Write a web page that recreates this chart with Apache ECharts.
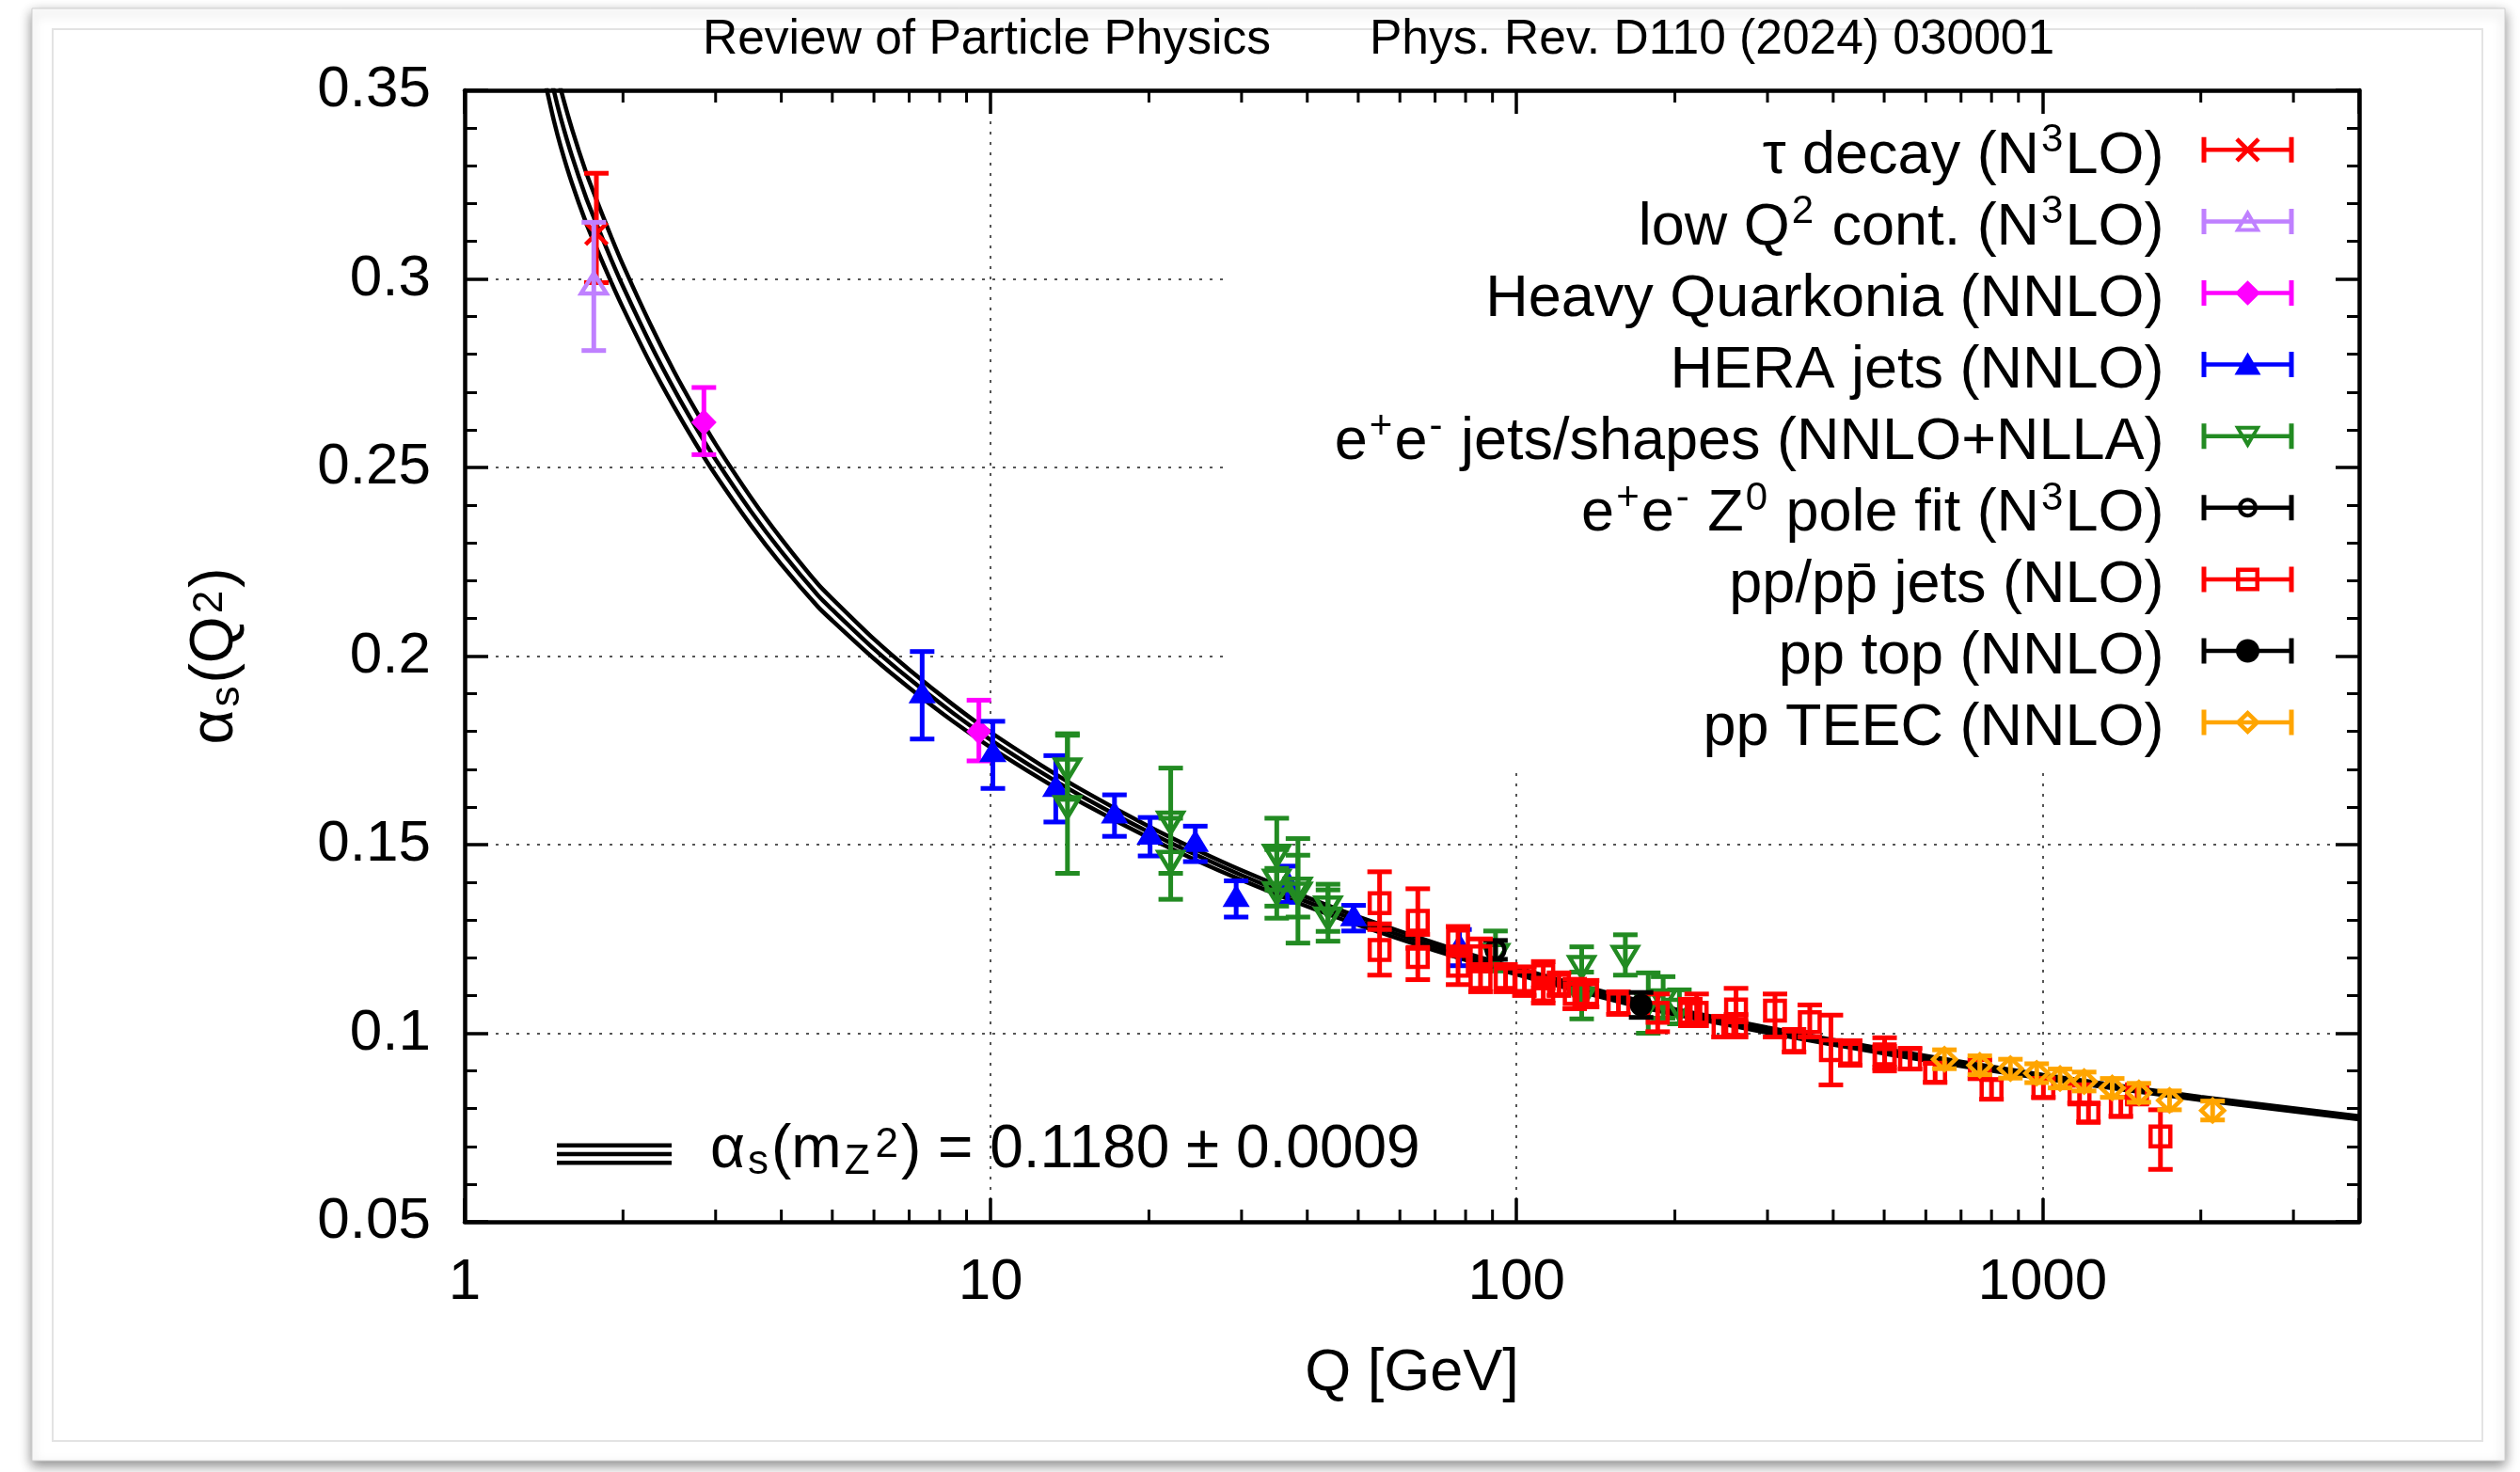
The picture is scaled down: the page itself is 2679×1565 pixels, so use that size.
<!DOCTYPE html>
<html><head><meta charset="utf-8">
<script src="https://cdn.jsdelivr.net/npm/echarts@6/dist/echarts.min.js"></script>
<style>html,body{margin:0;padding:0;background:#fff}#c{width:2679px;height:1565px}</style>
</head><body><div id="c"></div>
<script>
// ---------------- data ----------------
const titleLeft = 'Review of Particle Physics';
const titleRight = 'Phys. Rev. D110 (2024) 030001';
const xAxisName = 'Q [GeV]';
const xTickLabels = [1, 10, 100, 1000];
const xMinorTicks = [2,3,4,5,6,7,8,9,20,30,40,50,60,70,80,90,200,300,400,500,600,700,800,900,2000,3000];

// running coupling band: Q and alpha_s for upper / central / lower lines
const qCurve = [1.43,1.477,1.524,1.6,1.7,1.777,1.9,2,2.25,2.5,2.75,3,3.5,4,4.7,5,6,7,8.5,10,12.5,15,20,25,30,40,50,70,91.19,150,172.5,200,300,500,1000,2000,4000];
const alphaCentral = [0.3590,0.3500,0.3425,0.3325,0.3217,0.3149,0.3051,0.2980,0.2830,0.2708,0.2607,0.2521,0.2384,0.2277,0.2160,0.2123,0.2019,0.1940,0.1848,0.1778,0.1691,0.1626,0.1533,0.1468,0.1419,0.1348,0.1298,0.1229,0.1180,0.1098,0.1077,0.1057,0.1008,0.0952,0.0885,0.0827,0.0776];
const alphaUpper = [0.3673,0.3579,0.3501,0.3397,0.3284,0.3213,0.3111,0.3037,0.2882,0.2755,0.2651,0.2562,0.2421,0.2311,0.2190,0.2152,0.2045,0.1964,0.1870,0.1798,0.1710,0.1643,0.1548,0.1482,0.1432,0.1360,0.1309,0.1239,0.1189,0.1106,0.1085,0.1064,0.1015,0.0958,0.0890,0.0831,0.0780];
const alphaLower = [0.3507,0.3421,0.3349,0.3253,0.3150,0.3085,0.2991,0.2923,0.2778,0.2661,0.2563,0.2480,0.2347,0.2243,0.2130,0.2094,0.1993,0.1916,0.1826,0.1758,0.1673,0.1609,0.1518,0.1454,0.1406,0.1336,0.1287,0.1219,0.1171,0.1090,0.1069,0.1050,0.1001,0.0946,0.0880,0.0823,0.0772];
const bandName = 'αs(mZ2) = 0.1180 ± 0.0009';

// measurements: [Q, alpha_s, low, high]
const tauDecay = [[1.78, 0.312, 0.299, 0.328]];
const lowQ2 = [[1.76, 0.298, 0.281, 0.315]];
const heavyQuarkonia = [[2.85, 0.262, 0.2534, 0.2712], [9.5, 0.180, 0.1722, 0.1883]];
const heraJets = [
  [7.41, 0.1896, 0.1780, 0.2012], [10.1, 0.1740, 0.1649, 0.1827], [13.3, 0.1648, 0.1560, 0.1736],
  [17.2, 0.1577, 0.1522, 0.1632], [20.1, 0.1521, 0.1470, 0.1572], [24.5, 0.1502, 0.1455, 0.1549],
  [29.3, 0.1356, 0.1308, 0.1404], [36.7, 0.1395, 0.1347, 0.1443], [49.0, 0.1305, 0.1271, 0.1339],
  [77.9, 0.1227, 0.1179, 0.1275]];
const eeJets = [
  [14.0, 0.1707, 0.1620, 0.1794], [14.0, 0.1607, 0.1424, 0.1790],
  [22.0, 0.1566, 0.1424, 0.1703], [22.0, 0.1462, 0.1355, 0.1570],
  [35.0, 0.1478, 0.1380, 0.1570], [35.0, 0.1412, 0.1337, 0.1487], [35.0, 0.1379, 0.1305, 0.1437],
  [38.4, 0.1391, 0.1308, 0.1472], [38.4, 0.1378, 0.1239, 0.1516],
  [43.8, 0.1341, 0.1270, 0.1395], [43.8, 0.1312, 0.1244, 0.1380],
  [91.2, 0.1215, 0.1165, 0.1271], [133, 0.1183, 0.1137, 0.1229], [133, 0.1100, 0.1038, 0.1162],
  [161, 0.1210, 0.1154, 0.1261], [178, 0.1085, 0.1000, 0.1160], [190, 0.1095, 0.1040, 0.1150],
  [204, 0.1070, 0.1025, 0.1115]];
const zPoleFit = [[91.19, 0.1221, 0.1196, 0.1246]];
const ppJets = [
  [54.9, 0.1345, 0.1275, 0.1428], [54.9, 0.1221, 0.1154, 0.1290],
  [64.9, 0.1298, 0.1225, 0.1383], [64.9, 0.1202, 0.1142, 0.1262],
  [77.4, 0.1246, 0.1210, 0.1283], [77.4, 0.1179, 0.1129, 0.1229],
  [85.4, 0.1204, 0.1165, 0.1250], [85.4, 0.1146, 0.1110, 0.1182],
  [95.3, 0.1146, 0.1110, 0.1182], [103.5, 0.1138, 0.1100, 0.1176],
  [112.4, 0.1154, 0.1120, 0.1190], [112.4, 0.1113, 0.1080, 0.1146],
  [120.4, 0.1129, 0.1100, 0.1160], [129, 0.1104, 0.1065, 0.1143], [136.2, 0.1104, 0.1070, 0.1140],
  [156.2, 0.1079, 0.1050, 0.1110], [185.5, 0.1054, 0.1004, 0.1104], [214, 0.1054, 0.1020, 0.1090],
  [220, 0.1054, 0.1020, 0.1104], [247.5, 0.1017, 0.0990, 0.1045],
  [261.4, 0.1063, 0.1030, 0.1119], [261.4, 0.1021, 0.0990, 0.1050],
  [310, 0.1060, 0.0990, 0.1104], [337, 0.0979, 0.0950, 0.1010], [361, 0.1029, 0.0990, 0.1075],
  [396, 0.0955, 0.0863, 0.1048], [431, 0.0946, 0.0915, 0.0980],
  [501, 0.0944, 0.0910, 0.0988], [501, 0.0932, 0.0900, 0.0965], [560, 0.0932, 0.0905, 0.0960],
  [625, 0.0895, 0.0870, 0.0920], [760, 0.0905, 0.0880, 0.0930], [800, 0.0851, 0.0825, 0.0877],
  [1004, 0.0855, 0.0830, 0.0880], [1176, 0.0838, 0.0815, 0.0862], [1223, 0.0789, 0.0765, 0.0813],
  [1409, 0.0805, 0.0780, 0.0830], [1513, 0.0838, 0.0815, 0.0860], [1676, 0.0726, 0.0639, 0.0797]];
const ppTop = [[172.5, 0.1075, 0.1042, 0.1108]];
const ppTEEC = [
  [651, 0.0931, 0.0906, 0.0956], [760, 0.0915, 0.0890, 0.0940], [869, 0.0906, 0.0881, 0.0931],
  [975, 0.0894, 0.0869, 0.0919], [1080, 0.0880, 0.0855, 0.0905], [1200, 0.0872, 0.0847, 0.0897],
  [1357, 0.0855, 0.0830, 0.0880], [1525, 0.0842, 0.0817, 0.0867], [1744, 0.0822, 0.0797, 0.0847],
  [2106, 0.0795, 0.0770, 0.0820]];

const legendNames = ['τ decay (N3LO)', 'low Q2 cont. (N3LO)', 'Heavy Quarkonia (NNLO)', 'HERA jets (NNLO)',
  'e+e- jets/shapes (NNLO+NLLA)', 'e+e- Z0 pole fit (N3LO)', 'pp/pp\u0304 jets (NLO)', 'pp top (NNLO)', 'pp TEEC (NNLO)'];
const legendRich = [
  '{n|τ decay (N}{s|3}{n|LO)}',
  '{n|low Q}{s|2}{n| cont. (N}{s|3}{n|LO)}',
  '{n|Heavy Quarkonia (NNLO)}',
  '{n|HERA jets (NNLO)}',
  '{n|e}{s|+}{n|e}{s|-}{n| jets/shapes (NNLO+NLLA)}',
  '{n|e}{s|+}{n|e}{s|-}{n| Z}{s|0}{n| pole fit (N}{s|3}{n|LO)}',
  '{n|pp/pp\u0304 jets (NLO)}',
  '{n|pp top (NNLO)}',
  '{n|pp TEEC (NNLO)}'];
const seriesColors = ['#ff0000', '#bf80ff', '#ff00ff', '#0000ff', '#228b22', '#000000', '#ff0000', '#000000', '#ffa500'];
const seriesMarkers = ['cross', 'triOpen', 'diamondFill', 'triFill', 'triDownOpen', 'circleOpen', 'squareOpen', 'circleFill', 'diamondOpen'];
const seriesData = [tauDecay, lowQ2, heavyQuarkonia, heraJets, eeJets, zPoleFit, ppJets, ppTop, ppTEEC];

// ---------------- helpers ----------------
const FONT = '"Liberation Sans", Arial, Helvetica, sans-serif';

function area(p){let s=0;for(let i=0;i<p.length;i++){const a=p[i],b=p[(i+1)%p.length];s+=a[0]*b[1]-b[0]*a[1];}return s;}
function cw(p){return area(p)>=0?p:p.slice().reverse();}
function ccw(p){return area(p)<0?p:p.slice().reverse();}
function polyPath(p){return 'M'+p.map(q=>q[0].toFixed(2)+' '+q[1].toFixed(2)).join('L')+'Z';}
function rectPath(x,y,w,h){return polyPath(cw([[x,y],[x+w,y],[x+w,y+h],[x,y+h]]));}
function circ(cx,cy,r,n){const p=[];for(let i=0;i<n;i++){const a=2*Math.PI*i/n;p.push([cx+r*Math.cos(a),cy+r*Math.sin(a)]);}return p;}
function diag(x1,y1,x2,y2,t){const dx=x2-x1,dy=y2-y1,L=Math.hypot(dx,dy),nx=-dy/L*t,ny=dx/L*t;return [[x1+nx,y1+ny],[x2+nx,y2+ny],[x2-nx,y2-ny],[x1-nx,y1-ny]];}

function legendIcon(kind){
  const cx=49, cy=13.5;
  let s = rectPath(0,11.25,98,4.5) + rectPath(0,0,5,27) + rectPath(93,0,5,27);
  const P = p => polyPath(cw(p)), H = p => polyPath(ccw(p));
  switch(kind){
    case 'cross': s += P(diag(cx-11.5,cy-11.5,cx+11.5,cy+11.5,2.3)) + P(diag(cx-11.5,cy+11.5,cx+11.5,cy-11.5,2.3)); break;
    case 'triOpen': s += P([[cx,0.5],[cx+14,24.5],[cx-14,24.5]]) + H([[cx,9],[cx+7.5,20.5],[cx-7.5,20.5]]); break;
    case 'triFill': s += P([[cx,0.5],[cx+14,24.5],[cx-14,24.5]]); break;
    case 'triDownOpen': s += P([[cx-14,2.5],[cx+14,2.5],[cx,26.5]]) + H([[cx-7.5,6.5],[cx+7.5,6.5],[cx,18]]); break;
    case 'diamondFill': s += P([[cx,0.2],[cx+13.5,cy],[cx,26.8],[cx-13.5,cy]]); break;
    case 'diamondOpen': s += P([[cx,0.5],[cx+13.5,cy],[cx,26.5],[cx-13.5,cy]]) + H([[cx,7],[cx+7,cy],[cx,20],[cx-7,cy]]); break;
    case 'squareOpen': s += P([[cx-12.5,1],[cx+12.5,1],[cx+12.5,26],[cx-12.5,26]]) + H([[cx-8,5.5],[cx+8,5.5],[cx+8,21.5],[cx-8,21.5]]); break;
    case 'circleOpen': s += P(circ(cx,cy,10.5,32)) + H(circ(cx,cy,6.3,32)); break;
    case 'circleFill': s += P(circ(cx,cy,12.5,32)); break;
  }
  return 'path://' + s;
}
const bandIcon = 'path://' + rectPath(0,0,122,4.5) + rectPath(0,9.25,122,4.5) + rectPath(0,18.5,122,4.5);

function markerEl(kind, x, y, c){
  const lw = 4.5;
  const st = {fill:'none', stroke:c, lineWidth:lw, lineJoin:'miter'};
  switch(kind){
    case 'cross': return {type:'group', children:[
      {type:'line', shape:{x1:x-11.5,y1:y-11.5,x2:x+11.5,y2:y+11.5}, style:{stroke:c,lineWidth:lw}},
      {type:'line', shape:{x1:x-11.5,y1:y+11.5,x2:x+11.5,y2:y-11.5}, style:{stroke:c,lineWidth:lw}}]};
    case 'triOpen': return {type:'polygon', shape:{points:[[x,y-14],[x+13.5,y+7.5],[x-13.5,y+7.5]]}, style:st};
    case 'triFill': return {type:'polygon', shape:{points:[[x,y-15.5],[x+14.5,y+8.5],[x-14.5,y+8.5]]}, style:{fill:c}};
    case 'triDownOpen': return {type:'polygon', shape:{points:[[x,y+14],[x+13,y-7.5],[x-13,y-7.5]]}, style:st};
    case 'diamondFill': return {type:'polygon', shape:{points:[[x-13.5,y],[x,y-14],[x+13.5,y],[x,y+14]]}, style:{fill:c}};
    case 'diamondOpen': return {type:'polygon', shape:{points:[[x-12,y],[x,y-11.5],[x+12,y],[x,y+11.5]]}, style:st};
    case 'squareOpen': return {type:'rect', shape:{x:x-10.5,y:y-10.5,width:21,height:21}, style:st};
    case 'circleOpen': return {type:'circle', shape:{cx:x,cy:y,r:9.5}, style:st};
    case 'circleFill': return {type:'circle', shape:{cx:x,cy:y,r:12}, style:{fill:c}};
  }
}
function makeRender(kind, c){
  return function(params, api){
    const q = api.value(0);
    const p = api.coord([q, api.value(1)]);
    const pl = api.coord([q, api.value(2)]);
    const ph = api.coord([q, api.value(3)]);
    const w = 13, lw = 5;
    const ls = {stroke:c, lineWidth:lw};
    return {type:'group', children:[
      {type:'line', shape:{x1:p[0],y1:pl[1],x2:p[0],y2:ph[1]}, style:ls},
      {type:'line', shape:{x1:p[0]-w,y1:pl[1],x2:p[0]+w,y2:pl[1]}, style:ls},
      {type:'line', shape:{x1:p[0]-w,y1:ph[1],x2:p[0]+w,y2:ph[1]}, style:ls},
      markerEl(kind, p[0], p[1], c)
    ]};
  };
}
function renderMinorX(params, api){
  const cs = params.coordSys;
  const x = api.coord([api.value(0), 0.2])[0];
  const b = cs.y + cs.height, t = cs.y, len = 13;
  return {type:'group', children:[
    {type:'line', shape:{x1:x,y1:b,x2:x,y2:b-len}, style:{stroke:'#000',lineWidth:3}},
    {type:'line', shape:{x1:x,y1:t,x2:x,y2:t+len}, style:{stroke:'#000',lineWidth:3}}]};
}

// ---------------- chart ----------------
const chart = echarts.init(document.getElementById('c'), null, {renderer:'canvas', width:2679, height:1565});

const series = [];
[alphaUpper, alphaCentral, alphaLower].forEach(arr => {
  series.push({type:'line', name: bandName, data: qCurve.map((q,i)=>[q, arr[i]]),
    symbol:'none', showSymbol:false, smooth:0.25, clip:true, silent:true, z:2,
    lineStyle:{color:'#000', width:4.5}, itemStyle:{color:'#000'}});
});
seriesData.forEach((d,i) => {
  series.push({type:'custom', name: legendNames[i], data: d, renderItem: makeRender(seriesMarkers[i], seriesColors[i]),
    itemStyle:{color: seriesColors[i]}, silent:true, clip:false, z:3, encode:{x:0, y:1}});
});
series.push({type:'custom', name:'minor', data: xMinorTicks.map(v=>[v, 0.2]), renderItem: renderMinorX,
  silent:true, z:6, encode:{x:0, y:1}});

const nRich = {fontFamily:FONT, fontSize:63, color:'#000', lineHeight:61, padding:[14,0,0,0]};
const sRich = {fontFamily:FONT, fontSize:42, color:'#000', lineHeight:42, verticalAlign:'top', padding:[0,2,0,2]};
const n2 = {fontFamily:FONT, fontSize:64, color:'#000', lineHeight:62, padding:[10,0,18,0]};
const b2 = {fontFamily:FONT, fontSize:44, color:'#000', lineHeight:60, verticalAlign:'bottom', padding:[0,3,0,3]};
const t2 = {fontFamily:FONT, fontSize:44, color:'#000', lineHeight:36, verticalAlign:'top', padding:[0,3,0,3]};

const dotted = {type:[3,8], color:'#555', width:2};
const axisCommon = {
  axisLine:{show:true, lineStyle:{color:'#000', width:4.5}},
  axisTick:{show:true, inside:true, length:25, lineStyle:{color:'#000', width:3.5}},
};

const option = {
  animation:false,
  backgroundColor:'#ffffff',
  textStyle:{fontFamily:FONT},
  graphic:[
    {type:'rect', z:-10, shape:{x:34, y:9, width:2629, height:1544},
      style:{fill:'#ffffff', stroke:'#cfcfcf', lineWidth:1, shadowBlur:12, shadowColor:'rgba(0,0,0,0.45)', shadowOffsetY:5}},
    {type:'rect', z:-9, shape:{x:56, y:31, width:2583, height:1501},
      style:{fill:'none', stroke:'#e3e3e3', lineWidth:2}}
  ],
  title:[
    {text:titleLeft, left:747, top:17, padding:0, textStyle:{fontFamily:FONT, fontSize:51.5, fontWeight:'normal', color:'#000', lineHeight:52}},
    {text:titleRight, left:1456, top:17, padding:0, textStyle:{fontFamily:FONT, fontSize:51.5, fontWeight:'normal', color:'#000', lineHeight:52}}
  ],
  grid:{left:494, right:171, top:96, bottom:266, containLabel:false, outerBoundsMode:'none'},
  xAxis:[
    Object.assign({type:'log', logBase:10, min:1, max:4000, position:'bottom',
      name:xAxisName, nameLocation:'middle', nameGap:127,
      nameTextStyle:{fontFamily:FONT, fontSize:63, color:'#000', lineHeight:70},
      axisLabel:{show:true, margin:33, fontFamily:FONT, fontSize:62, color:'#000', lineHeight:63,
        formatter: v => { const r = Math.round(v); return xTickLabels.indexOf(r) >= 0 ? String(r) : ''; }},
      splitLine:{show:true, lineStyle:dotted}, minorTick:{show:false}}, axisCommon),
    Object.assign({type:'log', logBase:10, min:1, max:4000, position:'top', z:5,
      axisLabel:{show:false}, splitLine:{show:false}, minorTick:{show:false}}, axisCommon)
  ],
  yAxis:[
    Object.assign({type:'value', min:0.05, max:0.35, interval:0.05, position:'left',
      name:'{n|α}{b|s}{n|(Q}{t|2}{n|)}', nameLocation:'middle', nameRotate:90, nameGap:230,
      nameTextStyle:{fontFamily:FONT, fontSize:64, color:'#000', rich:{n:n2, b:b2, t:t2}},
      axisLabel:{show:true, margin:36, fontFamily:FONT, fontSize:62, color:'#000'},
      minorTick:{show:true, splitNumber:5, length:13, lineStyle:{color:'#000', width:3}},
      splitLine:{show:true, lineStyle:dotted}}, axisCommon),
    Object.assign({type:'value', min:0.05, max:0.35, interval:0.05, position:'right', z:5,
      axisLabel:{show:false}, splitLine:{show:false},
      minorTick:{show:true, splitNumber:5, length:13, lineStyle:{color:'#000', width:3}}}, axisCommon)
  ],
  legend:[
    {data: legendNames.map((n,i)=>({name:n, icon: legendIcon(seriesMarkers[i])})),
      orient:'vertical', align:'right', right:174, top:99, padding:[21.8, 66.5, 8, 114],
      backgroundColor:'#ffffff', borderWidth:0, itemWidth:98, itemHeight:27, itemGap:-0.9,
      selectedMode:false, itemStyle:{borderWidth:0}, z:4,
      formatter: n => legendRich[legendNames.indexOf(n)] + '{sp| }',
      textStyle:{fontFamily:FONT, fontSize:63, color:'#000', rich:{n:nRich, s:sRich, sp:{width:35, fontSize:20}}}},
    {data:[{name:bandName, icon:bandIcon}], orient:'horizontal', align:'left', left:592, top:1181, padding:0,
      itemWidth:122, itemHeight:23, selectedMode:false, itemStyle:{borderWidth:0},
      formatter: () => '{sp| }{n|α}{b|s}{n|(m}{b|Z}{t|2}{n|) = 0.1180 ± 0.0009}',
      textStyle:{fontFamily:FONT, fontSize:64, color:'#000', rich:{n:n2, b:b2, t:t2, sp:{width:36, fontSize:20}}}}
  ],
  series: series
};
chart.setOption(option);
</script></body></html>
